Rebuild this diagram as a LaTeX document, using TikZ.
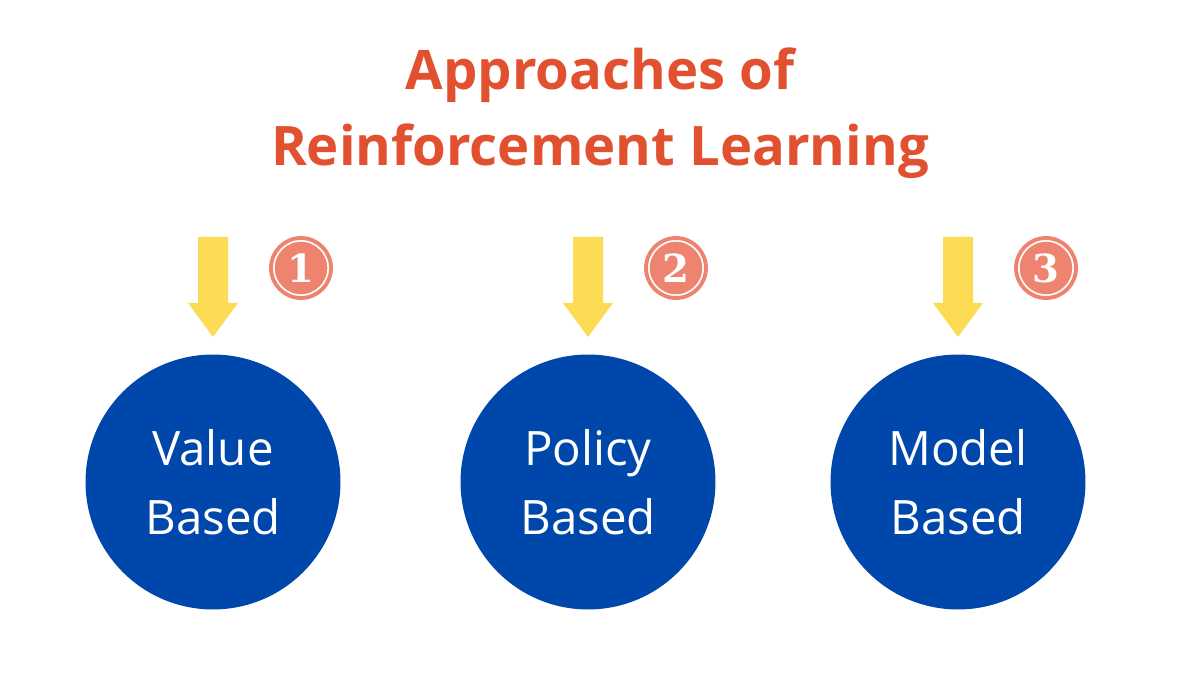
\documentclass[tikz,border=0pt]{standalone}
\usepackage{fontspec}
\setmainfont{Open Sans}
\newfontfamily\numfont{DejaVu Serif}
\definecolor{titlered}{HTML}{E2512F}
\definecolor{circblue}{HTML}{0047AB}
\definecolor{arrowyellow}{HTML}{FDDC55}
\definecolor{badgesalmon}{HTML}{EE8470}
\begin{document}
\begin{tikzpicture}[x=0.02cm,y=-0.02cm,
approach/.style ={circle, fill=circblue, text=white, minimum size=5.1cm,
  inner sep=0pt, align=center, font=\fontsize{27}{39}\selectfont
},
badge/.style ={circle, fill=badgesalmon, draw=white, line width=1pt,
  double=badgesalmon, double distance=2.2pt, minimum size=1.2cm, inner sep=0pt,
  text=white, font=\numfont\bfseries\fontsize{22}{22}\selectfont
},
title/.style ={text=titlered, align=center,
  font=\bfseries\fontsize{31}{43}\selectfont
}]
\useasboundingbox (0,0) rectangle (1200,675);
\node (title) at (600,113) [title] {Approaches of\\Reinforcement Learning};

\foreach \name/\x/\num/\txt in {value/213/1/Value\\Based,
    policy/588/2/Policy\\Based, model/958/3/Model\\Based} {
  \node (\name) at (\x,482) [approach] {\txt};
  \node (\name num) at (\x+88,268) [badge] {\num};
  % yellow arrow down to the circle
  \fill[arrowyellow] (\x-15,237) -- (\x+15,237) -- (\x+15,303) -- (\x+25,303)
    -- (\x,337) -- (\x-25,303) -- (\x-15,303) -- cycle;
}
\end{tikzpicture}
\end{document}
